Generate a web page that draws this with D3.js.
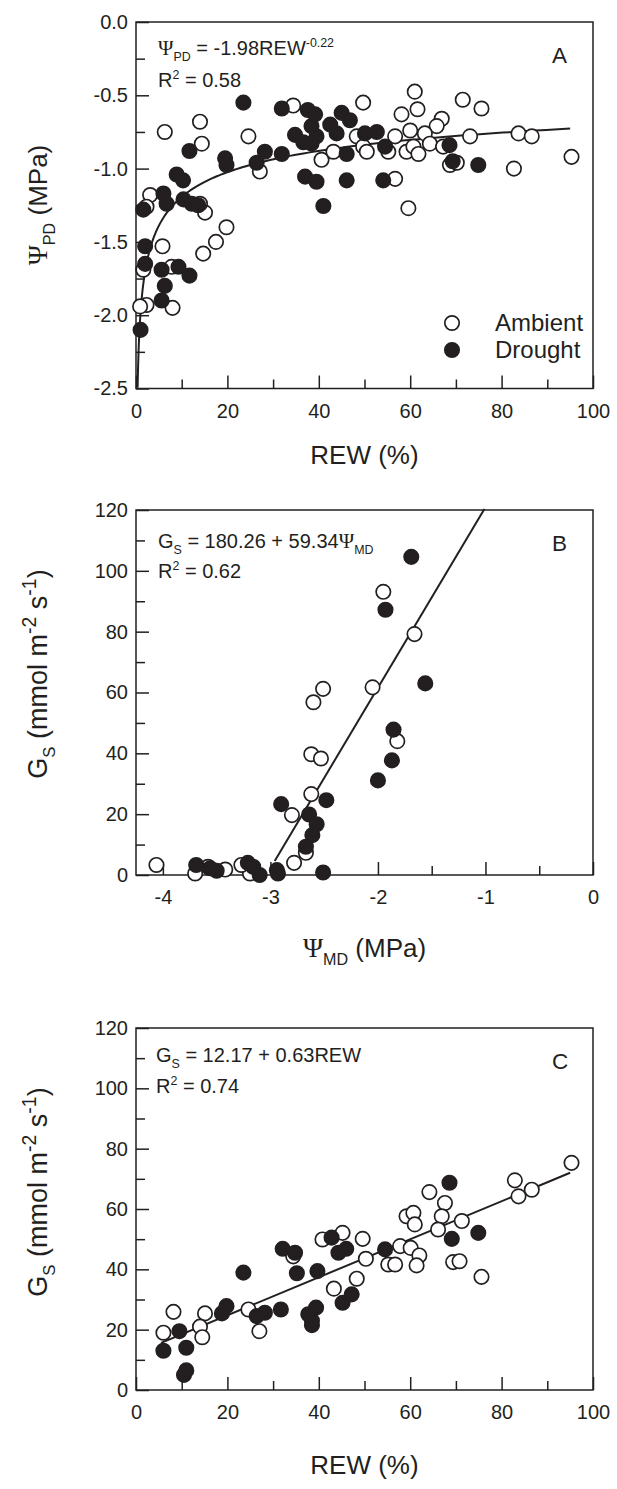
<!DOCTYPE html>
<html><head><meta charset="utf-8">
<script src="https://cdn.jsdelivr.net/npm/d3@7"></script>
<style>
body{margin:0;background:#fff}
svg{display:block}
text{font-family:"Liberation Sans",Arial,sans-serif;fill:#231f20}
</style>
</head><body>
<svg id="c" width="617" height="1489"></svg>
<script>
// ---------- DATA ----------
// Panel A: REW (%) vs Psi_PD (MPa)
const ambientA = [[34.4,-0.57],[49.7,-0.55],[14.0,-0.68],[6.3,-0.75],[14.4,-0.83],[24.6,-0.78],[27.1,-1.02],[48.3,-0.78],[40.6,-0.94],[43.2,-0.885],[49.7,-0.85],[61,-0.475],[71.5,-0.53],[75.6,-0.59],[61.6,-0.595],[58.1,-0.63],[66.9,-0.66],[65.8,-0.71],[60,-0.74],[63.2,-0.76],[56.7,-0.78],[73.1,-0.78],[83.7,-0.76],[86.6,-0.78],[55.2,-0.885],[50.5,-0.885],[59.2,-0.885],[60.7,-0.85],[61.8,-0.90],[64.3,-0.83],[67.2,-0.85],[68.7,-0.975],[70.2,-0.96],[82.7,-1.0],[95.3,-0.92],[56.7,-1.07],[59.6,-1.27],[3.1,-1.18],[2.3,-1.26],[15.1,-1.30],[14,-1.24],[19.8,-1.40],[17.5,-1.50],[14.7,-1.58],[5.8,-1.53],[1.6,-1.69],[7.8,-1.67],[2.3,-1.93],[0.9,-1.94],[8,-1.95]];
const droughtA = [[23.5,-0.55],[31.9,-0.59],[37.6,-0.60],[39.2,-0.63],[45,-0.62],[46.8,-0.67],[11.7,-0.88],[19.5,-0.93],[19.8,-0.975],[26.4,-0.96],[28.2,-0.885],[31.9,-0.90],[34.8,-0.77],[36.6,-0.82],[38.4,-0.83],[39.5,-0.78],[38.4,-0.71],[42.5,-0.70],[43.9,-0.76],[50.1,-0.76],[46.1,-0.90],[37,-1.055],[39.5,-1.09],[46.1,-1.08],[8.9,-1.04],[10.3,-1.08],[52.7,-0.75],[54.5,-0.85],[68.6,-0.84],[69.3,-0.95],[74.9,-0.975],[54.1,-1.08],[6,-1.17],[1.6,-1.28],[6.7,-1.24],[10.4,-1.21],[12.2,-1.24],[13.6,-1.25],[2,-1.53],[2,-1.65],[5.6,-1.69],[9.3,-1.67],[11.7,-1.73],[6.3,-1.80],[5.6,-1.90],[1,-2.10],[41,-1.255]];
// Panel B: Psi_MD (MPa) vs Gs
const ambientB = [[-1.95,93.1],[-1.66,79.2],[-1.82,44.0],[-2.05,61.7],[-2.51,61.2],[-2.60,56.8],[-2.62,39.7],[-2.53,38.3],[-2.62,26.6],[-2.80,19.7],[-2.67,7.3],[-2.78,4.0],[-3.19,0.5],[-3.27,3.3],[-3.42,1.8],[-3.58,2.7],[-3.70,0.5],[-4.06,3.3]];
const droughtB = [[-1.69,104.6],[-1.93,87.2],[-1.56,63.0],[-1.855,47.8],[-1.87,37.7],[-2.0,31.1],[-2.48,24.6],[-2.90,23.3],[-2.64,19.9],[-2.57,16.7],[-2.61,13.1],[-2.67,9.3],[-2.51,0.8],[-2.94,1.6],[-2.93,0.5],[-3.10,0],[-3.21,4.0],[-3.16,2.7],[-3.5,1.4],[-3.56,2.2],[-3.69,3.3]];
// Panel C: REW (%) vs Gs
const ambientC = [[8.2,25.9],[15.1,25.4],[24.6,26.7],[40.8,49.9],[45.2,52.1],[49.6,50.1],[50.3,43.5],[34.4,44.3],[48.3,36.9],[43.3,33.6],[95.3,75.3],[82.9,69.5],[86.6,66.4],[83.7,64.2],[64.2,65.6],[67.6,62.0],[66.9,57.6],[59.2,57.6],[60.7,58.7],[61,54.9],[66.1,53.2],[71.3,56.0],[57.8,47.7],[60.1,47.1],[62,44.6],[55.2,41.6],[56.7,41.6],[61.4,41.3],[69.4,42.4],[70.8,42.7],[75.6,37.5],[6,19],[14,21],[14.5,17.5],[27,19.5]];
const droughtC = [[42.8,50.5],[44.3,45.5],[46,46.8],[32.1,46.8],[34.8,45.5],[23.5,38.9],[35.2,38.7],[39.7,39.4],[47.2,31.7],[45.2,28.9],[19.8,27.8],[18.8,25.4],[28.2,25.6],[26.4,24.5],[31.7,26.7],[39.4,27.3],[37.7,25.1],[68.6,68.7],[74.9,52.1],[69.1,50.1],[54.5,46.6],[6,13],[9.5,19.5],[10.5,5],[11,6.5],[11,14],[38.5,21.5],[38.5,23]];
// Regression coefficients
const fitA = {a:-1.98, b:-0.22, from:0.35, to:95};
const fitB = {a:180.26, b:59.34, from:-2.96, to:-1.01};
const fitC = {a:12.17, b:0.63, from:5.5, to:95};
// Ticks
const rewTicks = [0,20,40,60,80,100], rewMinor=[10,30,50,70,90];
const psiPDTicks = [0,-0.5,-1,-1.5,-2,-2.5], psiPDLabels=["0.0","-0.5","-1.0","-1.5","-2.0","-2.5"], psiPDMinor=[-0.25,-0.75,-1.25,-1.75,-2.25];
const psiMDTicks = [-4,-3,-2,-1,0], psiMDLabels=["-4","-3","-2","-1","0"], psiMDMinor=[-3.5,-2.5,-1.5,-0.5];
const gsTicks = [0,20,40,60,80,100,120], gsMinor=[10,30,50,70,90,110];

// ---------- DRAW ----------
const svg = d3.select("#c");
const ink = "#231f20";
const L=136, R=593;

function panel(p){
  const g = svg.append("g");
  const x = d3.scaleLinear().domain(p.xd).range([L,R]);
  const y = d3.scaleLinear().domain(p.yd).range([p.bottom,p.top]);
  g.append("g").attr("transform",`translate(${L},0)`)
    .call(d3.axisLeft(y).tickValues(p.yMinor).tickSize(-9).tickFormat(""))
    .call(s=>s.select(".domain").remove());
  g.append("g").attr("transform",`translate(0,${p.bottom})`)
    .call(d3.axisBottom(x).tickValues(p.xMinor).tickSize(-9).tickFormat(""))
    .call(s=>s.select(".domain").remove());
  g.append("g").attr("transform",`translate(${L},0)`)
    .call(d3.axisLeft(y).tickValues(p.yTicks).tickSize(-13).tickPadding(8).tickFormat((d,i)=>p.yLabels[i]))
    .call(s=>s.select(".domain").remove());
  const xa = g.append("g").attr("transform",`translate(0,${p.bottom})`)
    .call(d3.axisBottom(x).tickValues(p.xTicks).tickSize(-13).tickFormat((d,i)=>p.xLabels[i]))
    .call(s=>s.select(".domain").remove());
  g.selectAll(".tick line").attr("stroke",ink).attr("stroke-width",1.5);
  g.selectAll(".tick text").attr("font-size",20).attr("font-family","Liberation Sans, Arial, sans-serif").attr("fill",ink);
  xa.selectAll(".tick text").attr("dy","0.71em").attr("y",15);
  g.append("rect").attr("x",L).attr("y",p.top).attr("width",R-L).attr("height",p.bottom-p.top)
    .attr("fill","none").attr("stroke",ink).attr("stroke-width",1.5);
  g.append("path").datum(p.fit).attr("d",d3.line().x(d=>x(d[0])).y(d=>y(d[1])))
    .attr("fill","none").attr("stroke",ink).attr("stroke-width",2);
  g.selectAll(".amb").data(p.amb).join("circle").attr("cx",d=>x(d[0])).attr("cy",d=>y(d[1])).attr("r",7.2)
    .attr("fill","#fff").attr("stroke",ink).attr("stroke-width",1.7);
  g.selectAll(".dro").data(p.dro).join("circle").attr("cx",d=>x(d[0])).attr("cy",d=>y(d[1])).attr("r",7.2)
    .attr("fill",ink).attr("stroke",ink).attr("stroke-width",1.7);
  g.append("text").attr("x",552).attr("y",p.top+40.7).attr("font-size",22.5).text(p.letter);
  return {g,x,y};
}

function sampleLin(f){ return [[f.from, f.a+f.b*f.from],[f.to, f.a+f.b*f.to]]; }
const fitAPts = d3.range(0,201).map(i=>{const v=fitA.from*Math.pow(fitA.to/fitA.from,i/200); return [v, fitA.a*Math.pow(v,fitA.b)];});

panel({xd:[0,100], yd:[-2.5,0], top:22, bottom:388.5, xTicks:rewTicks, xLabels:rewTicks.map(String), xMinor:rewMinor,
  yTicks:psiPDTicks, yLabels:psiPDLabels, yMinor:psiPDMinor, fit:fitAPts, amb:ambientA, dro:droughtA, letter:"A"});
panel({xd:[-4.25,0], yd:[0,120], top:510, bottom:875, xTicks:psiMDTicks, xLabels:psiMDLabels, xMinor:psiMDMinor,
  yTicks:gsTicks, yLabels:gsTicks.map(String), yMinor:gsMinor, fit:sampleLin(fitB), amb:ambientB, dro:droughtB, letter:"B"});
panel({xd:[0,100], yd:[0,120], top:1028, bottom:1390, xTicks:rewTicks, xLabels:rewTicks.map(String), xMinor:rewMinor,
  yTicks:gsTicks, yLabels:gsTicks.map(String), yMinor:gsMinor, fit:sampleLin(fitC), amb:ambientC, dro:droughtC, letter:"C"});

function rich(sel, parts, size, supScale){
  const ss = supScale||0.62;
  let shift = 0;
  parts.forEach(([t,k])=>{
    const ts = sel.append("tspan").text(t);
    let target = 0;
    if(k==="sub"){ ts.attr("font-size",size*0.62); target = size*0.3; }
    else if(k==="sup"){ ts.attr("font-size",size*ss); target = -size*0.42; }
    else if(k==="psi"){ ts.attr("font-family","Liberation Serif, Times New Roman, serif").attr("font-size",size*1.05); }
    ts.attr("dy", target-shift); shift = target;
  });
}

// equations
svg.append("text").attr("x",158).attr("y",55).attr("font-size",20)
  .call(s=>rich(s,[["Ψ","psi"],["PD","sub"],[" = -1.98REW","n"],["-0.22","sup"]],20));
svg.append("text").attr("x",158).attr("y",87).attr("font-size",20).call(s=>rich(s,[["R","n"],["2","sup"],[" = 0.58","n"]],20));
svg.append("text").attr("x",158).attr("y",548).attr("font-size",20)
  .call(s=>rich(s,[["G","n"],["S","sub"],[" = 180.26 + 59.34","n"],["Ψ","psi"],["MD","sub"]],20));
svg.append("text").attr("x",158).attr("y",578).attr("font-size",20).call(s=>rich(s,[["R","n"],["2","sup"],[" = 0.62","n"]],20));
svg.append("text").attr("x",156).attr("y",1062).attr("font-size",20)
  .call(s=>rich(s,[["G","n"],["S","sub"],[" = 12.17 + 0.63REW","n"]],20));
svg.append("text").attr("x",156).attr("y",1093).attr("font-size",20).call(s=>rich(s,[["R","n"],["2","sup"],[" = 0.74","n"]],20));

// legend (panel A)
const legend = [["Ambient","#fff"],["Drought",ink]];
legend.forEach(([lab,fill],i)=>{
  svg.append("circle").attr("cx",452).attr("cy",323+i*27).attr("r",7.2).attr("fill",fill).attr("stroke",ink).attr("stroke-width",1.7);
  svg.append("text").attr("x",495).attr("y",331+i*27).attr("font-size",24).text(lab);
});

// axis titles
const cx = (L+R)/2;
svg.append("text").attr("x",cx).attr("y",464).attr("text-anchor","middle").attr("font-size",26).text("REW (%)");
svg.append("text").attr("x",cx).attr("y",1474).attr("text-anchor","middle").attr("font-size",26).text("REW (%)");
svg.append("text").attr("x",cx).attr("y",957).attr("text-anchor","middle").attr("font-size",26)
  .call(s=>rich(s,[["Ψ","psi"],["MD","sub"],[" (MPa)","n"]],26));
function yTitle(cyy, parts, size){
  svg.append("text").attr("transform",`translate(47,${cyy}) rotate(-90)`).attr("text-anchor","middle").attr("font-size",size)
    .call(s=>rich(s,parts,size,0.72));
}
yTitle(205, [["Ψ","psi"],["PD","sub"],[" (MPa)","n"]], 26);
yTitle(674, [["G","n"],["S","sub"],[" (mmol m","n"],["-2","sup"],[" s","n"],["-1","sup"],[")","n"]], 27);
yTitle(1192, [["G","n"],["S","sub"],[" (mmol m","n"],["-2","sup"],[" s","n"],["-1","sup"],[")","n"]], 27);
</script>
</body></html>
